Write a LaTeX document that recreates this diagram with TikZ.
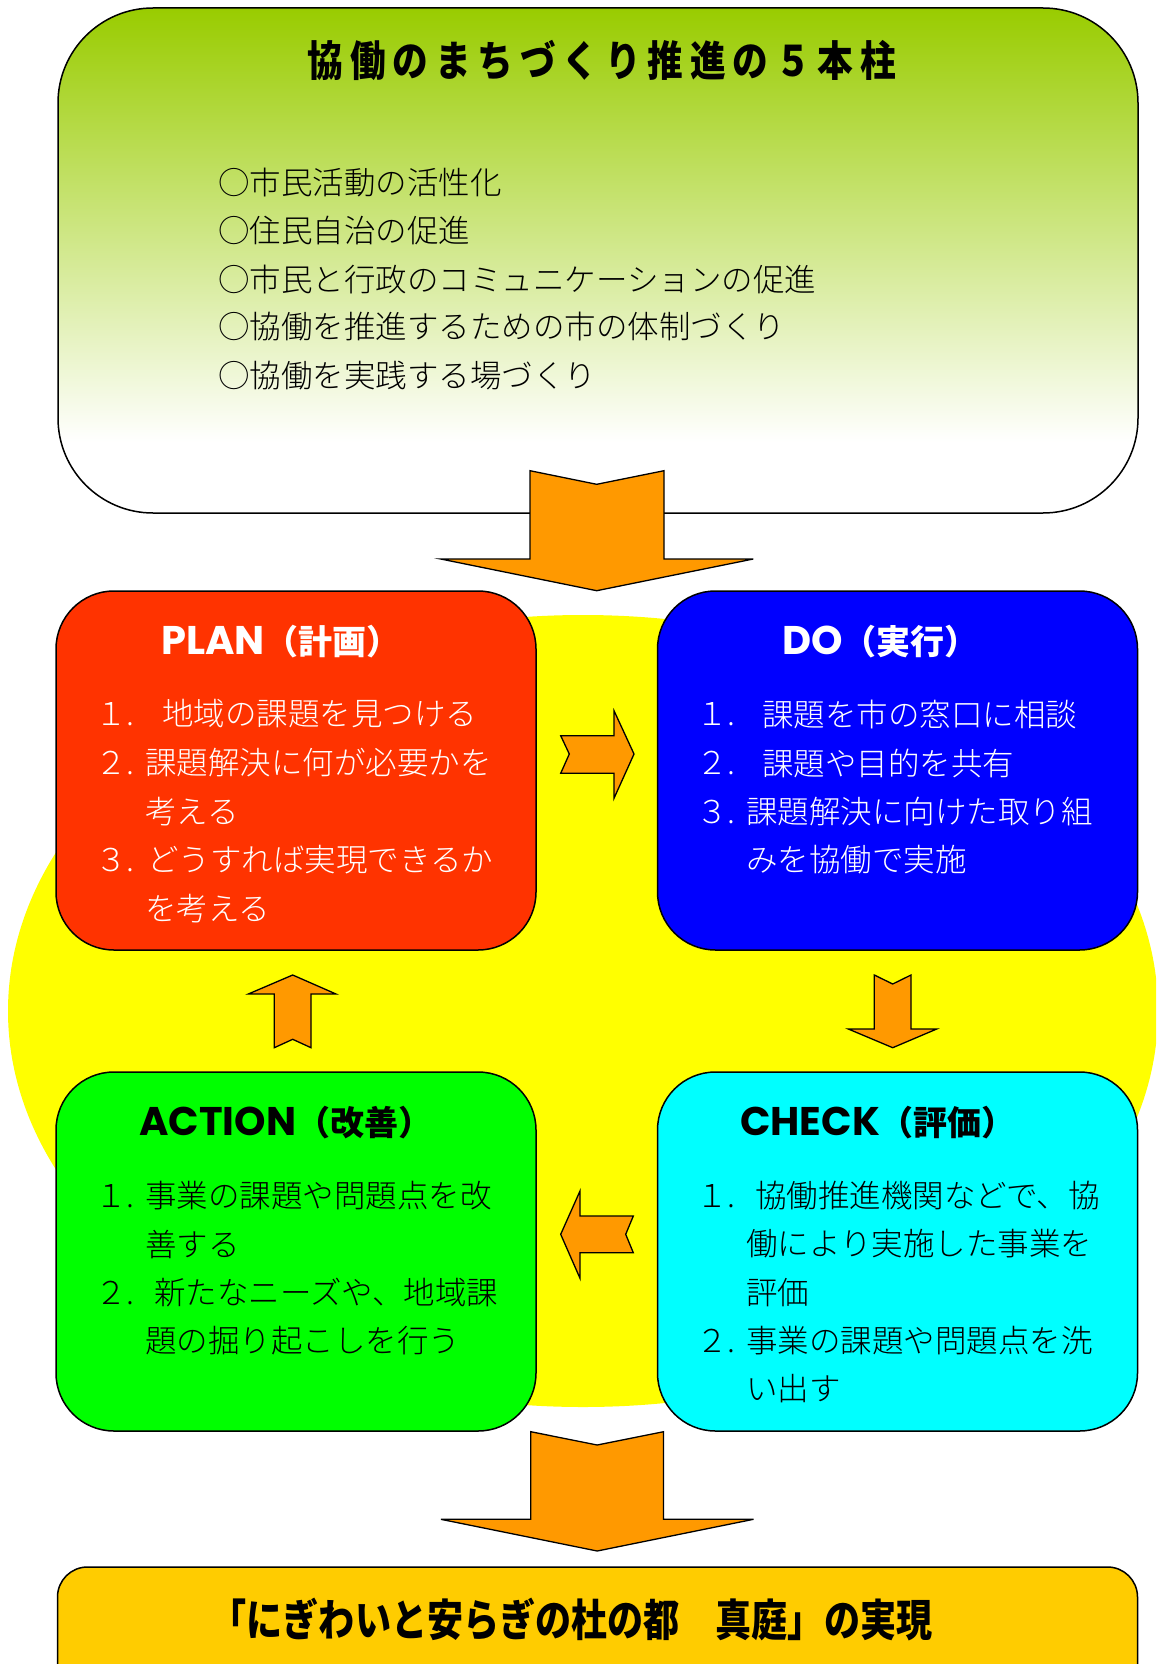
\documentclass[tikz,border=0pt]{standalone}
\usepackage{fontspec}
\newfontfamily\cjk{Noto Sans CJK JP}
\newfontfamily\cjkl{Noto Sans CJK JP Light}
\newfontfamily\pop{Poppins}
\usetikzlibrary{shapes.geometric}
\definecolor{planc}{RGB}{255,51,0}
\definecolor{doc}{RGB}{0,0,255}
\definecolor{actc}{RGB}{0,255,0}
\definecolor{chkc}{RGB}{0,255,255}
\definecolor{finc}{RGB}{255,204,0}
\definecolor{arrc}{RGB}{255,153,0}
\definecolor{topg}{RGB}{153,204,0}
\definecolor{ylw}{RGB}{255,255,0}
\pgfdeclareverticalshading{topsh}{100bp}{color(0bp)=(white); color(32bp)=(white); color(75bp)=(topg); color(100bp)=(topg)}
\def\sk{\kern8pt}
\begin{document}
\begin{tikzpicture}[x=1pt,y=-1pt,
  pdcabox/.style={draw=black, line width=1.5pt, rounded corners=58pt, minimum width=480pt, minimum height=359pt, inner sep=0pt},
  blk/.style={draw=black, line width=1.3pt, fill=arrc, line join=miter},
  tx/.style={anchor=west, inner sep=0pt, font=\cjkl\fontsize{31.5}{36}\selectfont},
  hd/.style={anchor=west, inner sep=0pt}]
\useasboundingbox (0,0) rectangle (1156,1664);
\clip (0,0) rectangle (1156,1664);
\fill[white] (0,0) rectangle (1156,1664);

% top box
\node[draw=black, line width=1.5pt, rounded corners=95pt, shading=topsh,
      minimum width=1080pt, minimum height=505pt, inner sep=0pt] (top) at (598,260.5) {};
\node[inner sep=0pt, xscale=0.85, transform shape] (ttl) at (602,60)
  {\cjk\bfseries\fontsize{42}{48}\selectfont 協\sk 働\sk の\sk ま\sk ち\sk づ\sk く\sk り\sk 推\sk 進\sk の\sk ５\sk 本\sk 柱};
\node[tx] (t1) at (218,182.6) {○市民活動の活性化};
\node[tx] (t2) at (218,230.3) {○住民自治の促進};
\node[tx] (t3) at (218,279.2) {○市民と行政のコミュニケーションの促進};
\node[tx] (t4) at (218,327) {○協働を推進するための市の体制づくり};
\node[tx] (t5) at (218,375.8) {○協働を実践する場づくり};

% yellow background
\node[ellipse, fill=ylw, minimum width=1150pt, minimum height=792pt, inner sep=0pt] (bg) at (583,1011) {};

% four boxes
\node[pdcabox, fill=planc] (plan) at (296,770.5) {};
\node[pdcabox, fill=doc] (do) at (897.5,770.5) {};
\node[pdcabox, fill=actc] (act) at (296,1251.5) {};
\node[pdcabox, fill=chkc] (chk) at (897.5,1251.5) {};

% headings
\node[hd, text=white] (planh) at (161,642) {{\pop\bfseries\fontsize{40}{48}\selectfont PLAN}{\cjk\bfseries\fontsize{34}{40}\selectfont （計画）}};
\node[hd, text=white] (doh) at (782,642) {{\pop\bfseries\fontsize{40}{48}\selectfont DO}{\cjk\bfseries\fontsize{34}{40}\selectfont （実行）}};
\node[hd, text=black] (acth) at (139,1123) {{\pop\bfseries\fontsize{40}{48}\selectfont ACTION}{\cjk\bfseries\fontsize{34}{40}\selectfont （改善）}};
\node[hd, text=black] (chkh) at (740,1123) {{\pop\bfseries\fontsize{40}{48}\selectfont CHECK}{\cjk\bfseries\fontsize{34}{40}\selectfont （評価）}};

% PLAN text
\begin{scope}[every node/.append style={text=white}]
\node[tx] (p1n) at (95,714) {１.};
\node[tx] (p1) at (162,714) {地域の課題を見つける};
\node[tx] (p2n) at (95,763) {２.};
\node[tx] (p2) at (145,763) {課題解決に何が必要かを};
\node[tx] (p2b) at (145,812) {考える};
\node[tx] (p3n) at (95,860) {３.};
\node[tx] (p3) at (147,860) {どうすれば実現できるか};
\node[tx] (p3b) at (145,909) {を考える};
% DO text
\node[tx] (d1n) at (696,714) {１.};
\node[tx] (d1) at (762,714) {課題を市の窓口に相談};
\node[tx] (d2n) at (696,763) {２.};
\node[tx] (d2) at (762,763) {課題や目的を共有};
\node[tx] (d3n) at (696,812) {３.};
\node[tx] (d3) at (746,812) {課題解決に向けた取り組};
\node[tx] (d3b) at (746,860) {みを協働で実施};
\end{scope}
% ACTION text
\node[tx] (a1n) at (95,1196) {１.};
\node[tx] (a1) at (145,1196) {事業の課題や問題点を改};
\node[tx] (a1b) at (145,1244) {善する};
\node[tx] (a2n) at (95,1293) {２.};
\node[tx] (a2) at (154,1293) {新たなニーズや、地域課};
\node[tx] (a2b) at (145,1341) {題の掘り起こしを行う};
% CHECK text
\node[tx] (c1n) at (696,1196) {１.};
\node[tx] (c1) at (755,1196) {協働推進機関などで、協};
\node[tx] (c1b) at (746,1244) {働により実施した事業を};
\node[tx] (c1c) at (746,1293) {評価};
\node[tx] (c2n) at (696,1341) {２.};
\node[tx] (c2) at (746,1341) {事業の課題や問題点を洗};
\node[tx] (c2b) at (746,1389) {い出す};

% block arrows
\filldraw[blk] (530,470.7) -- (596.7,484.3) -- (664,470.7) -- (664,559) -- (753.3,559) -- (596.7,590.7) -- (440.7,559) -- (530,559) -- cycle;
\filldraw[blk] (560.7,735.7) -- (614,735.7) -- (614,710.7) -- (634,754) -- (614,798.3) -- (614,773.3) -- (560.7,773.3) -- (569.3,754) -- cycle;
\filldraw[blk] (874.3,975) -- (892.7,984) -- (911,975) -- (911,1029) -- (936.7,1029) -- (892.7,1047.7) -- (848.3,1029) -- (874.3,1029) -- cycle;
\filldraw[blk] (560.7,1234.3) -- (580,1191) -- (580,1216) -- (633.3,1216) -- (625.7,1234.3) -- (633.3,1252.7) -- (580,1252.7) -- (580,1278.3) -- cycle;
\filldraw[blk] (292.7,975) -- (336,994) -- (311,994) -- (311,1047.7) -- (292.7,1039.3) -- (274.3,1047.7) -- (274.3,994) -- (248.3,994) -- cycle;
\filldraw[blk] (530.8,1431.7) -- (597.2,1445) -- (663.5,1431.7) -- (663.5,1519.3) -- (753.5,1519.3) -- (597.2,1551) -- (440.9,1519.3) -- (530.8,1519.3) -- cycle;

% final box
\node[draw=black, line width=1.5pt, rounded corners=30pt, fill=finc, minimum width=1080pt, minimum height=130pt, inner sep=0pt] (fin) at (597.5,1632) {};
\node[inner sep=0pt, xscale=0.82, transform shape] (fint) at (571.5,1619)
  {\cjk\bfseries\fontsize{44}{50}\selectfont 「にぎわいと安らぎの杜の都　真庭」の実現};
\end{tikzpicture}
\end{document}
